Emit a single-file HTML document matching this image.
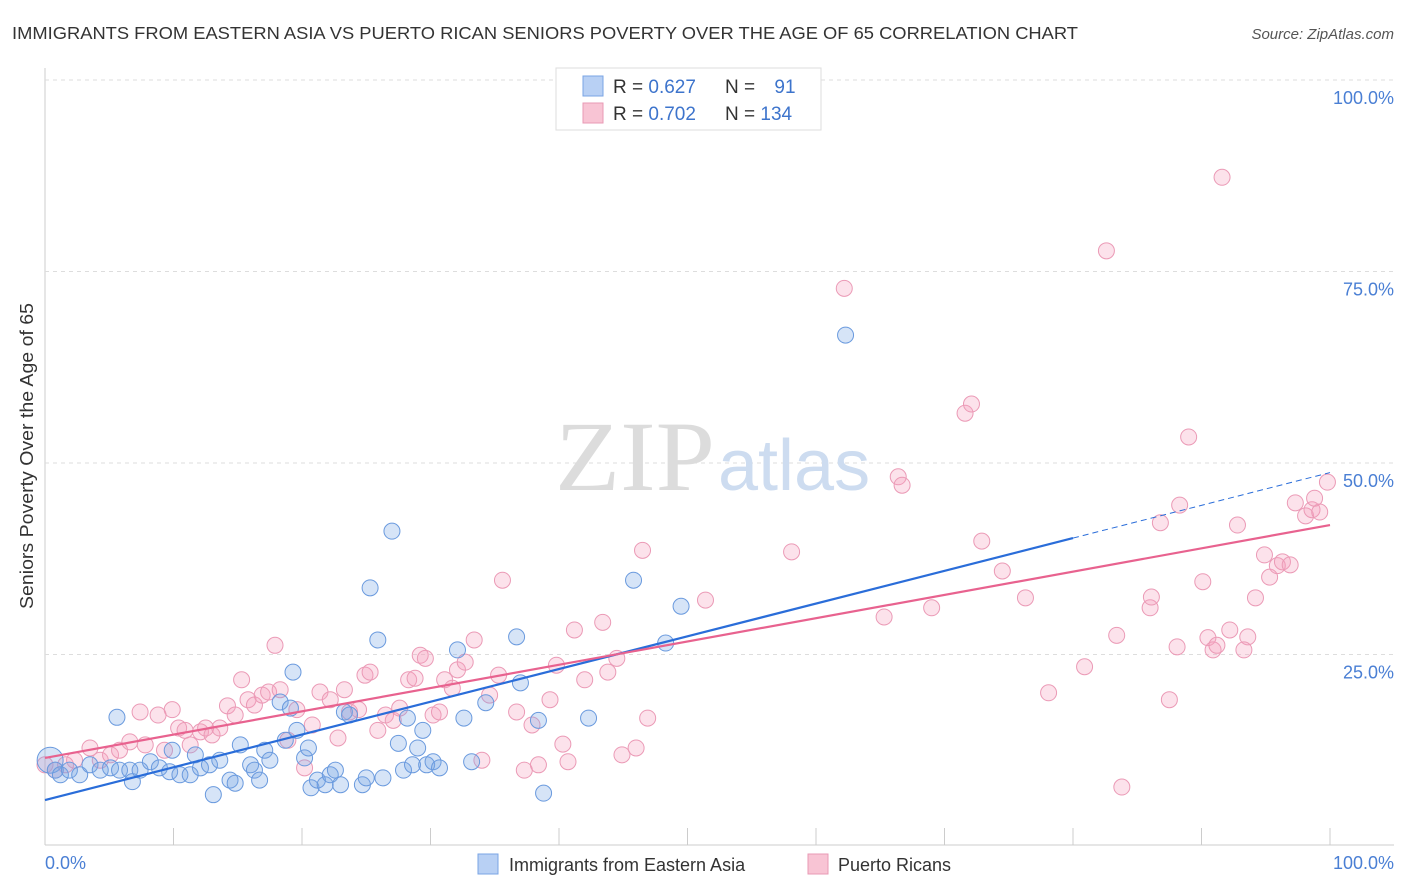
<!DOCTYPE html>
<html><head><meta charset="utf-8"><style>
body{margin:0;background:#fff;font-family:"Liberation Sans",sans-serif;}
svg{display:block}
</style></head><body>
<svg width="1406" height="892" xmlns="http://www.w3.org/2000/svg">
<text x="12" y="39" font-size="17.5" fill="#333" textLength="1066" lengthAdjust="spacingAndGlyphs">IMMIGRANTS FROM EASTERN ASIA VS PUERTO RICAN SENIORS POVERTY OVER THE AGE OF 65 CORRELATION CHART</text>
<text x="1394" y="39" font-size="15" fill="#555" font-style="italic" text-anchor="end">Source: ZipAtlas.com</text>
<g id="grid"></g>
<text x="715" y="490" font-size="100" font-family="Liberation Serif,serif" fill="#dcdcdc" text-anchor="end" textLength="160" lengthAdjust="spacingAndGlyphs">ZIP</text>
<text x="718" y="490" font-size="72" fill="#cddcf0">atlas</text>
<g id="pts"></g>
<g id="lines"></g>
<text x="27" y="462" font-size="18.5" fill="#333" transform="rotate(-90 27 456)" text-anchor="middle" textLength="306" lengthAdjust="spacingAndGlyphs">Seniors Poverty Over the Age of 65</text>
<text x="45" y="869" font-size="18" fill="#4a7fd4">0.0%</text>
<text x="1394" y="869" font-size="18" fill="#4a7fd4" text-anchor="end">100.0%</text>
<g>
<rect x="556" y="68" width="265" height="62" fill="#fff" stroke="#ddd"/>
<rect x="583" y="76" width="20" height="20" fill="#b8d0f4" stroke="#7aa4e4"/>
<rect x="583" y="103" width="20" height="20" fill="#f8c4d4" stroke="#e89ab4"/>
<text x="613" y="93" font-size="19" fill="#333">R = <tspan fill="#3d74cc">0.627</tspan></text>
<text x="725" y="93" font-size="19" fill="#333">N = <tspan fill="#3d74cc" dx="14">91</tspan></text>
<text x="613" y="120" font-size="19" fill="#333">R = <tspan fill="#3d74cc">0.702</tspan></text>
<text x="725" y="120" font-size="19" fill="#333">N = <tspan fill="#3d74cc">134</tspan></text>
</g>
<g>
<rect x="478" y="854" width="20" height="20" fill="#b8d0f4" stroke="#7aa4e4"/>
<text x="509" y="871" font-size="18" fill="#333">Immigrants from Eastern Asia</text>
<rect x="808" y="854" width="20" height="20" fill="#f8c4d4" stroke="#e89ab4"/>
<text x="838" y="871" font-size="18" fill="#333">Puerto Ricans</text>
</g>
</svg>
<script>
const yTicks=[25,50,75,100];
const yTickLabels=["25.0%","50.0%","75.0%","100.0%"];
const xTicks=[0,10,20,30,40,50,60,70,80,90,100];
const blueX=[0.4,0.8,1.2,1.9,2.7,3.5,4.3,5.1,5.6,5.8,6.6,6.8,7.4,8.2,8.9,9.7,9.9,10.5,11.3,11.7,12.1,12.8,13.1,13.6,14.4,14.8,15.2,16.0,16.3,16.7,17.1,17.5,18.3,18.7,19.1,19.3,19.6,20.2,20.5,20.7,21.2,21.8,22.2,22.6,23.0,23.3,23.7,24.7,25.0,25.3,25.9,26.3,27.0,27.5,27.9,28.2,28.6,29.0,29.4,29.7,30.2,30.7,32.1,32.6,33.2,34.3,36.7,37.0,38.4,38.8,42.3,45.8,48.3,49.5,62.3];
const blueY=[11.2,9.9,9.3,9.9,9.3,10.6,9.9,10.2,16.8,9.9,9.9,8.4,9.9,11.0,10.2,9.7,12.5,9.3,9.3,11.9,10.2,10.6,6.7,11.2,8.6,8.2,13.2,10.6,9.9,8.6,12.5,11.2,18.8,13.8,18.0,22.7,15.1,11.5,12.8,7.6,8.6,8.0,9.3,9.9,8.0,17.5,17.1,8.0,8.9,33.7,26.9,8.9,41.1,13.4,9.9,16.7,10.6,12.8,15.1,10.6,11.0,10.2,25.6,16.7,11.0,18.7,27.3,21.3,16.4,6.9,16.7,34.7,26.5,31.3,66.7];
const pinkX=[0,0.8,1.6,2.3,3.5,4.3,5.1,5.8,6.6,7.4,7.8,8.8,9.3,9.9,10.4,10.9,11.3,12.1,12.5,13.0,13.6,14.2,14.8,15.3,15.8,16.3,16.9,17.4,17.9,18.3,18.9,19.6,20.2,20.8,21.4,22.2,22.8,23.3,23.7,24.4,24.9,25.3,25.9,26.5,27.1,27.6,28.3,28.8,29.2,29.6,30.2,30.7,31.1,31.7,32.1,32.7,33.4,34.0,34.6,35.3,35.6,36.7,37.3,37.9,38.4,39.3,39.8,40.3,40.7,41.2,42.0,43.4,43.8,44.5,44.9,46.0,46.5,46.9,51.4,58.1,62.2,65.3,66.4,66.7,69.0,71.6,72.1,72.9,74.5,76.3,78.1,80.9,82.6,83.4,83.8,86.0,86.1,86.8,87.5,88.1,88.3,89.0,90.1,90.5,90.9,91.2,91.6,92.2,92.8,93.6,93.3,94.2,94.9,95.3,95.9,96.3,96.9,97.3,98.1,98.6,98.8,99.2,99.8];
const pinkY=[10.6,9.9,10.6,11.2,12.8,11.2,11.9,12.5,13.6,17.5,13.2,17.1,12.5,17.8,15.4,15.1,13.2,14.9,15.4,14.5,15.4,18.3,17.1,21.7,19.1,18.4,19.7,20.1,26.2,20.4,13.8,17.8,10.2,15.8,20.1,19.1,14.1,20.4,17.5,17.8,22.3,22.7,15.1,17.1,16.4,18.0,21.7,21.9,24.9,24.5,17.1,17.5,21.7,20.6,23.0,24.0,26.9,11.2,19.7,22.3,34.7,17.5,9.9,15.8,10.6,19.1,23.6,13.3,11.0,28.2,21.7,29.2,22.7,24.5,11.9,12.8,38.6,16.7,32.1,38.4,72.8,29.9,48.2,47.1,31.1,56.5,57.7,39.8,35.9,32.4,20.0,23.4,77.7,27.5,7.7,31.1,32.5,42.2,19.1,26.0,44.5,53.4,34.5,27.2,25.6,26.2,87.3,28.2,41.9,27.3,25.6,32.4,38.0,35.1,36.6,37.1,36.7,44.8,43.1,43.9,45.4,43.6,47.5];
const blueFit=[6.0,40.2];
const pinkFit=[11.5,41.9];
const NS="http://www.w3.org/2000/svg";
const sx=v=>45+v*12.85, sy=v=>846-v*7.66;
function mk(t,a,p){const e=document.createElementNS(NS,t);for(const k in a)e.setAttribute(k,a[k]);p.appendChild(e);return e;}
const grid=document.getElementById('grid');
mk('line',{x1:45,y1:68,x2:45,y2:845,stroke:'#ccc'},grid);
mk('line',{x1:45,y1:845,x2:1394,y2:845,stroke:'#ccc'},grid);
yTicks.forEach((v,i)=>{
const l=mk('line',{x1:45,y1:sy(v),x2:1394,y2:sy(v),stroke:'#ddd','stroke-dasharray':'4,4'},grid);


const t=mk('text',{x:1394,y:sy(v)+24,'font-size':18,fill:'#4a7fd4','text-anchor':'end'},grid);
t.textContent=yTickLabels[i];


});
xTicks.forEach(v=>{
const l=mk('line',{x1:sx(v),y1:828,x2:sx(v),y2:845,stroke:'#ccc'},grid);


});
const pts=document.getElementById('pts');
pinkX.forEach((x,i)=>{
const c=mk('circle',{cx:sx(x),cy:sy(pinkY[i]),r:8,fill:'rgba(244,160,190,0.3)',stroke:'#eb9ab6','stroke-width':1},pts);


});
blueX.forEach((x,i)=>{
const c=mk('circle',{cx:sx(x),cy:sy(blueY[i]),r:i==0?13:8,fill:'rgba(120,165,230,0.3)',stroke:'#6a9ade','stroke-width':1},pts);


});
const lines=document.getElementById('lines');
const by=x=>blueFit[0]+(blueFit[1]-blueFit[0])*x/80;
let l=mk('line',{x1:sx(0),y1:sy(by(0)),x2:sx(80),y2:sy(by(80)),stroke:'#2a6dd9','stroke-width':2.2},lines);


l=mk('line',{x1:sx(80),y1:sy(by(80)),x2:sx(100),y2:sy(by(100)),stroke:'#2a6dd9','stroke-width':1,'stroke-dasharray':'6,4'},lines);


l=mk('line',{x1:sx(0),y1:sy(pinkFit[0]),x2:sx(100),y2:sy(pinkFit[1]),stroke:'#e8628f','stroke-width':2.2},lines);


</script>
</body></html>
